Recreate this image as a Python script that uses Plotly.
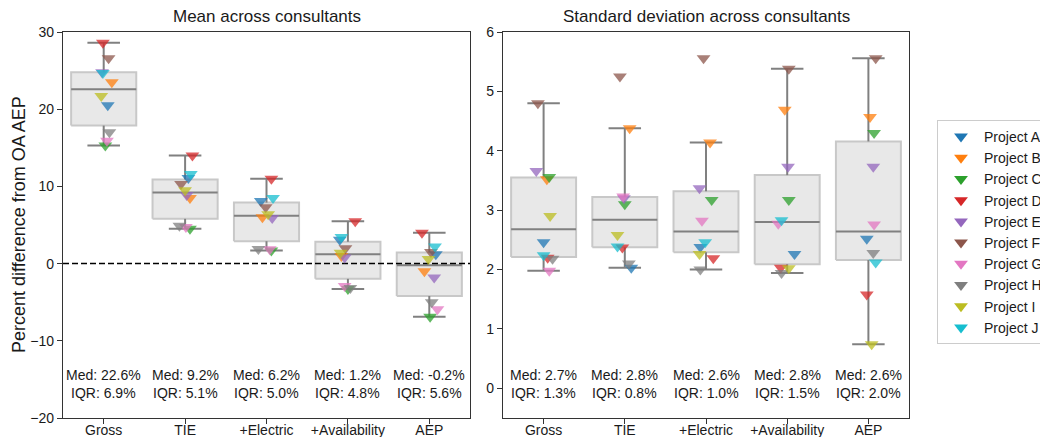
import numpy as np
import plotly.graph_objects as go

# ---------------------------------------------------------------- data
STAGES = ["Gross", "TIE", "+Electric", "+Availability", "AEP"]
PROJECTS = ["Project A", "Project B", "Project C", "Project D", "Project E",
            "Project F", "Project G", "Project H", "Project I", "Project J"]
COLORS = ["#1f77b4", "#ff7f0e", "#2ca02c", "#d62728", "#9467bd",
          "#8c564b", "#e377c2", "#7f7f7f", "#bcbd22", "#17becf"]

# Mean across consultants: percent difference from OA AEP (projects A..J)
MEAN_GROSS = [20.5, 23.5, 15.3, 28.6, 24.8, 26.6, 15.9, 17.0, 21.7, 24.7]
MEAN_TIE = [11.1, 8.5, 4.5, 14.0, 8.9, 10.3, 4.75, 4.9, 9.5, 11.6]
MEAN_ELEC = [8.1, 6.0, 1.7, 11.0, 5.9, 7.3, 1.85, 1.9, 6.4, 8.5]
MEAN_AVAIL = [3.1, 1.0, -3.3, 5.5, 0.8, 2.0, -2.9, -3.15, 1.4, 3.45]
MEAN_AEP = [1.2, -1.0, -6.9, 4.0, -1.8, 1.5, -5.9, -5.0, 0.6, 2.2]

# Standard deviation across consultants (projects A..J)
STD_GROSS = [2.46, 3.52, 3.56, 2.2, 3.66, 4.8, 1.98, 2.18, 2.9, 2.24]
STD_TIE = [2.03, 4.38, 3.10, 2.37, 3.20, 5.25, 3.23, 2.1, 2.58, 2.39]
STD_ELEC = [2.38, 4.14, 3.17, 2.19, 3.37, 5.56, 2.82, 2.0, 2.26, 2.46]
STD_AVAIL = [2.26, 4.69, 3.17, 2.03, 3.73, 5.38, 2.77, 1.94, 2.02, 2.83]
STD_AEP = [2.52, 4.57, 4.30, 1.58, 3.73, 5.56, 2.76, 2.28, 0.74, 2.12]

# Horizontal strip jitter of each project's marker (category units)
JIT_MEAN_GROSS = [0.05, 0.10, 0.02, -0.01, -0.02, 0.06, 0.04, 0.07, -0.03, -0.01]
JIT_MEAN_TIE = [0.04, 0.06, 0.06, 0.09, 0.02, -0.05, 0.01, -0.07, 0.0, 0.07]
JIT_MEAN_ELEC = [-0.07, -0.05, 0.06, 0.06, 0.07, -0.01, 0.04, -0.10, 0.02, 0.08]
JIT_MEAN_AVAIL = [-0.10, -0.08, 0.0, 0.09, -0.04, -0.03, -0.04, 0.03, -0.09, -0.08]
JIT_MEAN_AEP = [0.08, -0.06, 0.01, -0.09, 0.06, 0.02, 0.10, 0.03, -0.01, 0.07]
JIT_STD_GROSS = [0.0, 0.04, 0.07, 0.05, -0.09, -0.07, 0.07, 0.11, 0.08, 0.0]
JIT_STD_TIE = [0.08, 0.06, 0.0, -0.03, -0.01, -0.06, -0.02, 0.05, -0.09, -0.09]
JIT_STD_ELEC = [-0.07, 0.05, 0.07, 0.09, -0.08, -0.03, -0.05, -0.07, -0.08, -0.01]
JIT_STD_AVAIL = [0.09, -0.03, 0.02, -0.08, 0.01, 0.02, -0.11, -0.07, 0.02, -0.07]
JIT_STD_AEP = [-0.02, 0.02, 0.07, -0.02, 0.06, 0.09, 0.07, 0.06, 0.04, 0.09]

MEAN_SETS = [MEAN_GROSS, MEAN_TIE, MEAN_ELEC, MEAN_AVAIL, MEAN_AEP]
STD_SETS = [STD_GROSS, STD_TIE, STD_ELEC, STD_AVAIL, STD_AEP]
JIT_MEAN = [JIT_MEAN_GROSS, JIT_MEAN_TIE, JIT_MEAN_ELEC, JIT_MEAN_AVAIL, JIT_MEAN_AEP]
JIT_STD = [JIT_STD_GROSS, JIT_STD_TIE, JIT_STD_ELEC, JIT_STD_AVAIL, JIT_STD_AEP]

# ---------------------------------------------------------------- style
W, H = 1040, 437
FONT = "Liberation Sans, Arial, sans-serif"
TXT = "#1a1a1a"
AX = "#333333"
BOX_FILL = "#e8e8e8"
BOX_EDGE = "#c8c8c8"
WHISK = "#808080"
BOX_W = 0.8
CAP_W = 0.4
MARKER_SIZE = 12
X_RANGE = [-0.5, len(STAGES) - 0.5]

# panel placement in pixels: (left, right), shared (top, bottom)
LEFT_PX = (63, 470)
RIGHT_PX = (503, 909)
TOP_PX, BOT_PX = 32, 418


def px_dom_x(a, b):
    return [a / W, b / W]


def px_dom_y(top, bot):
    return [1 - bot / H, 1 - top / H]


def box_stats(vals):
    v = np.asarray(vals, dtype=float)
    q1, med, q3 = np.percentile(v, [25, 50, 75])
    iqr = q3 - q1
    lo = v[v >= q1 - 1.5 * iqr].min()
    hi = v[v <= q3 + 1.5 * iqr].max()
    return q1, med, q3, lo, hi, iqr


fig = go.Figure()
annotations = []


def draw_panel(sets, jitters, xa, ya, axis_suffix, ref_zero):
    xref = "x" + axis_suffix
    yref = "y" + axis_suffix
    # boxes and whiskers
    for i, vals in enumerate(sets):
        q1, med, q3, lo, hi, iqr = box_stats(vals)
        h = BOX_W / 2
        fig.add_trace(go.Scatter(
            x=[i - h, i + h, i + h, i - h, i - h], y=[q1, q1, q3, q3, q1],
            mode="lines", fill="toself", fillcolor=BOX_FILL,
            line=dict(color=BOX_EDGE, width=2), xaxis=xa, yaxis=ya,
            showlegend=False, hoverinfo="skip"))
        c = CAP_W / 2
        fig.add_trace(go.Scatter(
            x=[i, i, None, i, i, None, i - c, i + c, None, i - c, i + c, None, i - h, i + h],
            y=[q1, lo, None, q3, hi, None, lo, lo, None, hi, hi, None, med, med],
            mode="lines", line=dict(color=WHISK, width=2),
            xaxis=xa, yaxis=ya, showlegend=False, hoverinfo="skip"))
        annotations.append(dict(
            x=i, y=0.1114, xref=xref, yref=yref + " domain",
            text=f"Med: {med:.1f}%", showarrow=False,
            font=dict(family=FONT, size=14, color=TXT),
            xanchor="center", yanchor="middle"))
        annotations.append(dict(
            x=i, y=0.0648, xref=xref, yref=yref + " domain",
            text=f"IQR: {iqr:.1f}%", showarrow=False,
            font=dict(family=FONT, size=14, color=TXT),
            xanchor="center", yanchor="middle"))
    if ref_zero:
        fig.add_trace(go.Scatter(
            x=X_RANGE, y=[0, 0], mode="lines",
            line=dict(color="black", width=1.5, dash="6px,3px"),
            xaxis=xa, yaxis=ya, showlegend=False, hoverinfo="skip"))
    # project markers
    for p, (name, col) in enumerate(zip(PROJECTS, COLORS)):
        xs = [i + jitters[i][p] for i in range(len(STAGES))]
        ys = [sets[i][p] for i in range(len(STAGES))]
        fig.add_trace(go.Scatter(
            x=xs, y=ys, mode="markers", name=name,
            marker=dict(symbol="triangle-down", size=MARKER_SIZE, color=col, opacity=0.75),
            xaxis=xa, yaxis=ya, showlegend=False))


draw_panel(MEAN_SETS, JIT_MEAN, "x", "y", "", True)
draw_panel(STD_SETS, JIT_STD, "x2", "y2", "2", False)

# legend entries (solid markers)
for name, col in zip(PROJECTS, COLORS):
    fig.add_trace(go.Scatter(
        x=[None], y=[None], mode="markers", name=name,
        marker=dict(symbol="triangle-down", size=MARKER_SIZE, color=col),
        xaxis="x2", yaxis="y2", showlegend=True))

axis_common = dict(
    showline=True, mirror=True, linecolor=AX, linewidth=1.25,
    ticks="outside", ticklen=5, tickwidth=1.25, tickcolor=AX,
    showgrid=False, zeroline=False,
    tickfont=dict(family=FONT, size=14, color=TXT),
)

fig.update_layout(
    width=W, height=H,
    margin=dict(l=0, r=0, t=0, b=0, autoexpand=False),
    paper_bgcolor="white", plot_bgcolor="white",
    font=dict(family=FONT, size=14, color=TXT),
    xaxis=dict(domain=px_dom_x(*LEFT_PX), range=X_RANGE, tickmode="array",
               tickvals=list(range(len(STAGES))), ticktext=STAGES,
               ticklabelstandoff=-6, **axis_common),
    yaxis=dict(domain=px_dom_y(TOP_PX, BOT_PX), range=[-20, 30], tickmode="array",
               tickvals=[-20, -10, 0, 10, 20, 30], **axis_common),
    xaxis2=dict(domain=px_dom_x(*RIGHT_PX), range=X_RANGE, tickmode="array",
                tickvals=list(range(len(STAGES))), ticktext=STAGES,
                ticklabelstandoff=-6, anchor="y2", **axis_common),
    yaxis2=dict(domain=px_dom_y(TOP_PX, BOT_PX), range=[-0.5, 6], tickmode="array",
                tickvals=[0, 1, 2, 3, 4, 5, 6], anchor="x2", **axis_common),
    legend=dict(x=937 / W, y=1 - 120 / H, xanchor="left", yanchor="top",
                bordercolor="#cccccc", borderwidth=1, bgcolor="white",
                tracegroupgap=0, itemwidth=36,
                font=dict(family=FONT, size=14, color=TXT)),
    showlegend=True,
)

# panel titles and y-axis label
annotations.append(dict(
    x=sum(LEFT_PX) / 2 / W, y=1 - 17 / H, xref="paper", yref="paper",
    text="Mean across consultants", showarrow=False,
    font=dict(family=FONT, size=17, color=TXT), xanchor="center", yanchor="middle"))
annotations.append(dict(
    x=sum(RIGHT_PX) / 2 / W, y=1 - 17 / H, xref="paper", yref="paper",
    text="Standard deviation across consultants", showarrow=False,
    font=dict(family=FONT, size=17, color=TXT), xanchor="center", yanchor="middle"))
annotations.append(dict(
    x=19 / W, y=1 - (TOP_PX + BOT_PX) / 2 / H, xref="paper", yref="paper",
    text="Percent difference from OA AEP", showarrow=False, textangle=-90,
    font=dict(family=FONT, size=18, color=TXT), xanchor="center", yanchor="middle"))
fig.update_layout(annotations=annotations)

fig.write_html("out.html")
